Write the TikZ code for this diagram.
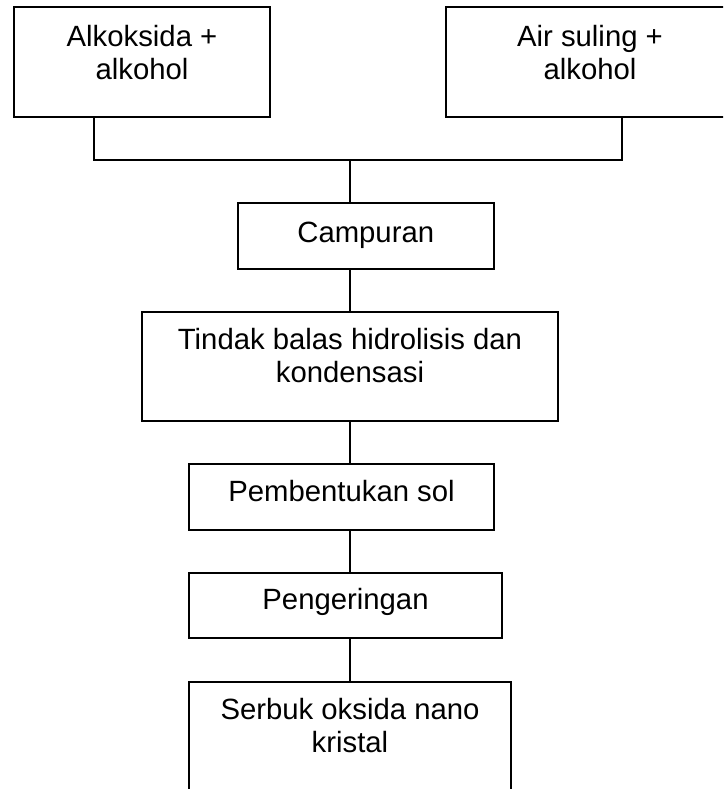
\documentclass[tikz,border=0pt]{standalone}
\usepackage{fontspec}
\setmainfont{Liberation Sans}
\usetikzlibrary{fit,calc}

\begin{document}
\begin{tikzpicture}[
  x=1pt, y=-1pt,
  stepbox/.style={rectangle, draw=black, line width=2pt, inner sep=0pt},
  steptext/.style={anchor=base, inner sep=0pt, align=center, font=\fontsize{29.3}{33}\selectfont},
  link/.style={draw=black, line width=1.4pt}
]
  \useasboundingbox (0,0) rectangle (723,789);
  \clip (0,0) rectangle (723,789);
  \fill[white] (0,0) rectangle (723,789);

  % boxes
  \node (alk) [stepbox, fit={(14,7.5) (270,117)}] {};
  \node (air) [stepbox, fit={(446,7.5) (734,117)}] {};
  \node (cam) [stepbox, fit={(237.5,203) (494,269)}] {};
  \node (tin) [stepbox, fit={(142,312) (558,421)}] {};
  \node (pem) [stepbox, fit={(189,464) (494,530)}] {};
  \node (pen) [stepbox, fit={(189,573) (502,638)}] {};
  \node (ser) [stepbox, fit={(189,682) (511,800)}] {};

  % texts (base = last line)
  \node (alkt) [steptext] at (142,80) {Alkoksida +\\alkohol};
  \node (airt) [steptext] at (590,80) {Air suling +\\alkohol};
  \node (camt) [steptext] at ($(cam.north)+(0,40)$) {Campuran};
  \node (tint) [steptext] at ($(tin.north)+(0,71)$) {Tindak balas hidrolisis dan\\kondensasi};
  \node (pemt) [steptext] at ($(pem.north)+(0,38)$) {Pembentukan sol};
  \node (pent) [steptext] at ($(pen.north)+(0,37)$) {Pengeringan};
  \node (sert) [steptext] at ($(ser.north)+(0,71)$) {Serbuk oksida nano\\kristal};

  % connectors
  \coordinate (join) at (350,160);
  \draw[link] ([xshift=-48pt]alk.south) |- (join) -| ([xshift=32pt]air.south);
  \draw[link] (join) -- (join |- cam.north);
  \draw[link] (tin.north |- cam.south) -- (tin.north);
  \draw[link] (tin.south) -- (tin.south |- pem.north);
  \draw[link] (tin.south |- pem.south) -- (tin.south |- pen.north);
  \draw[link] (tin.south |- pen.south) -- (tin.south |- ser.north);
\end{tikzpicture}
\end{document}
